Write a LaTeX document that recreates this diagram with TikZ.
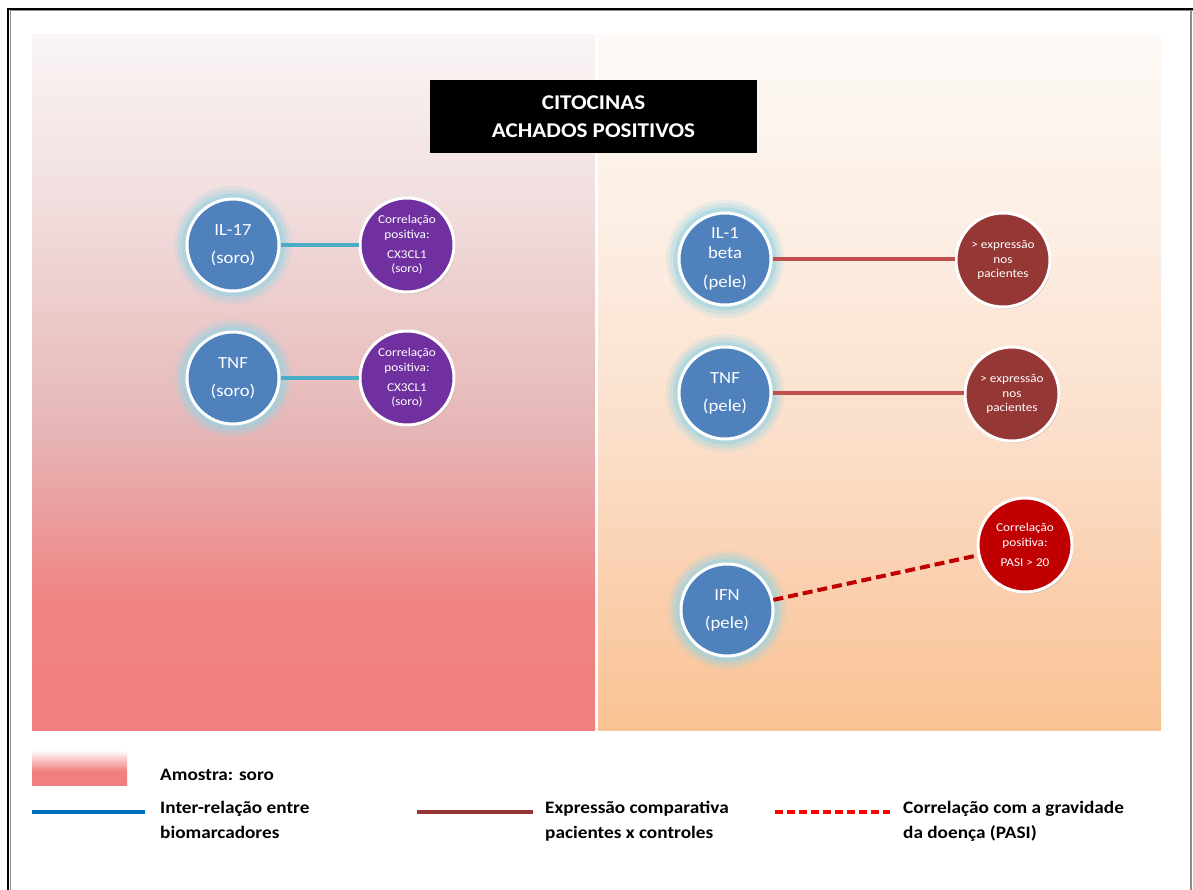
\documentclass[tikz,border=0pt]{standalone}
\usepackage{fontspec}
\setmainfont[FakeStretch=1.1]{Carlito}
\usetikzlibrary{shadows}
\definecolor{Ltop}{RGB}{250,245,245}
\definecolor{La}{RGB}{242,222,222}
\definecolor{Lb}{RGB}{230,182,182}
\definecolor{Lc}{RGB}{240,132,132}
\definecolor{Lbot}{RGB}{241,127,127}
\definecolor{Rtop}{RGB}{253,250,247}
\definecolor{Ra}{RGB}{252,236,224}
\definecolor{Rb}{RGB}{251,222,200}
\definecolor{Rc}{RGB}{250,206,172}
\definecolor{Rbot}{RGB}{249,195,147}
\definecolor{cblue}{RGB}{79,129,189}
\definecolor{glowc}{RGB}{150,212,228}
\definecolor{cpurple}{RGB}{112,48,160}
\definecolor{cdarkred}{RGB}{149,55,53}
\definecolor{cred}{RGB}{192,0,0}
\definecolor{cteal}{RGB}{75,172,198}
\definecolor{cline}{RGB}{192,80,77}
\definecolor{legblue}{RGB}{0,112,192}
\definecolor{legbrown}{RGB}{148,54,52}
\definecolor{legred}{RGB}{255,0,0}
\definecolor{bordergrey}{RGB}{140,140,140}
\pgfdeclareverticalshading{lpanel}{100bp}{color(0bp)=(Lbot); color(25bp)=(Lbot); color(34.4bp)=(Lc); color(46.6bp)=(Lb); color(63.1bp)=(La); color(75bp)=(Ltop); color(100bp)=(Ltop)}
\pgfdeclareverticalshading{rpanel}{100bp}{color(0bp)=(Rbot); color(25bp)=(Rbot); color(34.4bp)=(Rc); color(45.1bp)=(Rb); color(58.8bp)=(Ra); color(75bp)=(Rtop); color(100bp)=(Rtop)}
\pgfdeclareverticalshading{legshade}{100bp}{color(0bp)=(Lbot); color(25bp)=(Lbot); color(45bp)=(Lbot); color(75bp)=(white); color(100bp)=(white)}
\tikzset{
  bluenode/.style={circle, minimum size=92pt, inner sep=0pt, fill=cblue, draw=white, line width=3pt,
    text=white, font=\fontsize{17}{20}\selectfont, align=center,
    preaction={draw=glowc, line width=26pt, draw opacity=0.18},
    preaction={draw=glowc, line width=19pt, draw opacity=0.28},
    preaction={draw=glowc, line width=11pt, draw opacity=0.5}},
  smallnode/.style={circle, minimum size=94pt, inner sep=0pt, draw=white, line width=3pt,
    text=white, font=\fontsize{12}{14.5}\selectfont, align=center,
    drop shadow={opacity=0.25, shadow xshift=1.5pt, shadow yshift=-2pt}},
  tealline/.style={draw=cteal, line width=4pt},
  redline/.style={draw=cline, line width=4pt},
  dashline/.style={draw=cred, line width=4pt, dash pattern=on 10pt off 5pt},
  legtext/.style={anchor=north west, align=left, font=\bfseries\fontsize{17.5}{25}\selectfont, inner sep=0pt},
}
\begin{document}
\begin{tikzpicture}[x=1pt,y=-1pt]
\useasboundingbox (0,0) rectangle (1193,890);
\fill[white] (0,0) rectangle (1193,890);
% frame
\draw[bordergrey, line width=1pt] (10,10.8) -- (1193,10.8);
\draw[bordergrey, line width=1pt] (10,10) -- (10,890);
\draw[bordergrey, line width=1.5pt] (1191,9) -- (1191,890);
\draw[black, line width=2.5pt] (7,9) -- (1193,9);
\draw[black, line width=2.5pt] (8,8) -- (8,890);
% panels
\shade[shading=lpanel] (32,35) rectangle (595,730);
\shade[shading=rpanel] (598,35) rectangle (1161,730);
% title
\node[fill=black, text=white, minimum width=327pt, minimum height=73pt, inner sep=0pt, align=center,
  font=\bfseries\fontsize{21}{28}\selectfont] (title) at (593.5,116.5) {CITOCINAS\\ACHADOS POSITIVOS};
% left nodes
\node[bluenode] (il17) at (233,245) {IL-17\\[8pt](soro)};
\node[bluenode] (tnfs) at (233,378) {TNF\\[8pt](soro)};
\node[smallnode, fill=cpurple] (p1) at (407,245) {Correlação\\positiva:\\[5.5pt]CX3CL1\\(soro)};
\node[smallnode, fill=cpurple] (p2) at (407,378) {Correlação\\positiva:\\[5.5pt]CX3CL1\\(soro)};
\draw[tealline] (il17) -- (p1);
\draw[tealline] (tnfs) -- (p2);
% right nodes
\node[bluenode] (il1) at (725,259) {IL-1\\beta\\[9pt](pele)};
\node[bluenode] (tnfp) at (725,393) {TNF\\[8pt](pele)};
\node[bluenode] (ifn) at (727,610) {IFN\\[8pt](pele)};
\node[smallnode, fill=cdarkred] (d1) at (1003,260) {> expressão\\nos\\pacientes};
\node[smallnode, fill=cdarkred] (d2) at (1012,394) {> expressão\\nos\\pacientes};
\node[smallnode, fill=cred] (r1) at (1025,545) {Correlação\\positiva:\\[5.5pt]PASI > 20};
\draw[redline] (il1) -- (d1.west |- il1);
\draw[redline] (tnfp) -- (d2.west |- tnfp);
\draw[dashline] (ifn) -- (r1);
% legend
\shade[shading=legshade] (32,750) rectangle (127,785);
\node[legtext] (lg0) at (160,763) {\strut Amostra: soro};
\coordinate (la1) at (32,812);
\coordinate (la2) at (145,812);
\draw[legblue, line width=4pt] (la1) -- (la2);
\node[legtext] (lg1) at (160,796) {\strut Inter-relação entre\\biomarcadores};
\coordinate (lb1) at (417,812);
\coordinate (lb2) at (533,812);
\draw[legbrown, line width=4pt] (lb1) -- (lb2);
\node[legtext] (lg2) at (545,796) {\strut Expressão comparativa\\pacientes x controles};
\coordinate (lc1) at (775,812);
\coordinate (lc2) at (890,812);
\draw[legred, line width=4pt, dash pattern=on 8pt off 4pt] (lc1) -- (lc2);
\node[legtext] (lg3) at (903,796) {\strut Correlação com a gravidade\\da doença (PASI)};
\end{tikzpicture}
\end{document}
